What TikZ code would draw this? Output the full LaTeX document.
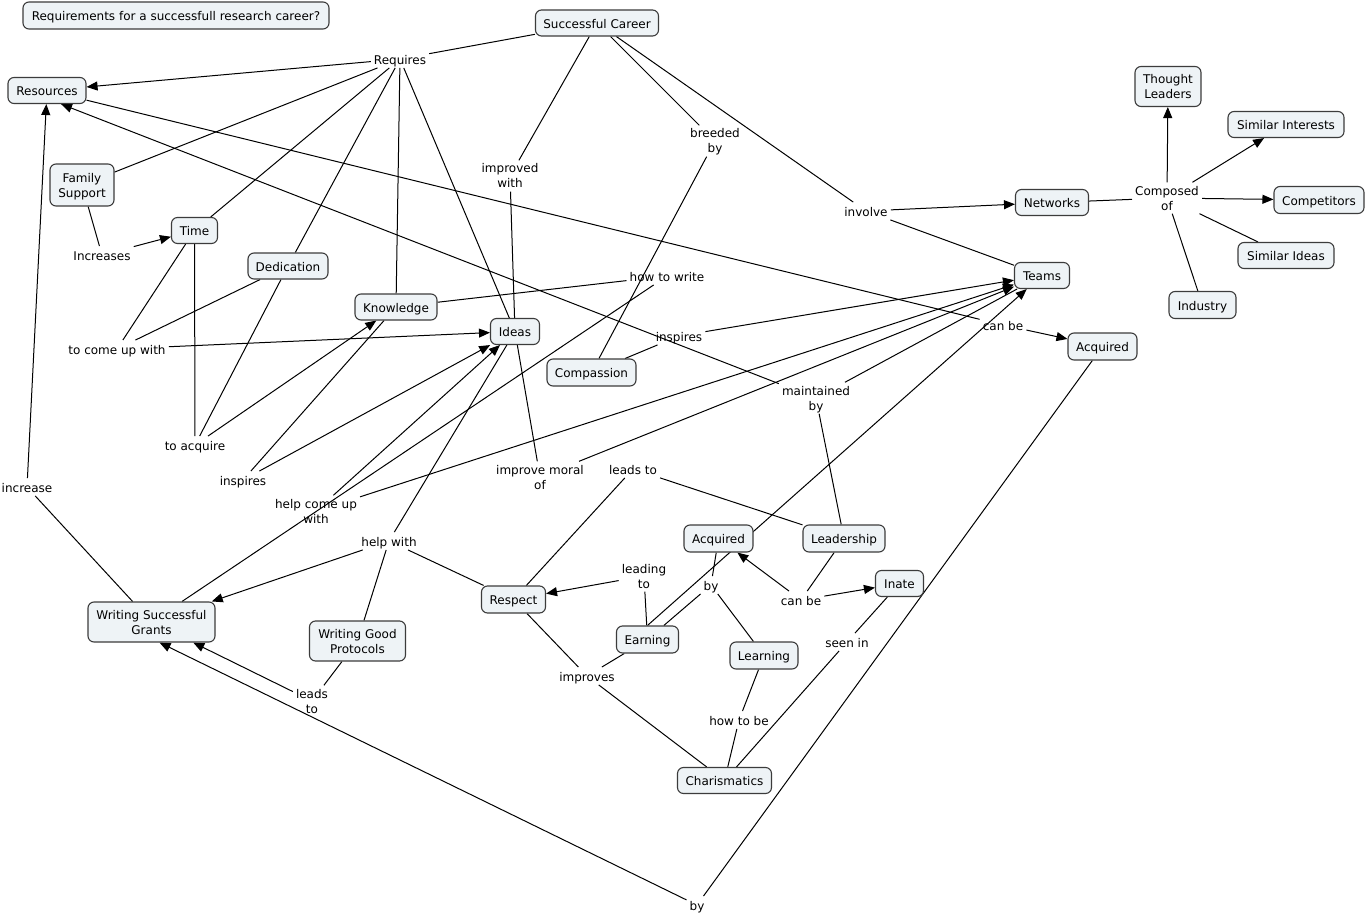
\documentclass[tikz,border=0pt]{standalone}
\usepackage{fontspec}
\setmainfont{DejaVu Sans}
\usetikzlibrary{arrows.meta}
\definecolor{cfill}{RGB}{238,243,246}
\definecolor{cborder}{RGB}{60,60,60}
\pgfdeclarelayer{bg}
\pgfdeclarelayer{lines}
\pgfsetlayers{bg,lines,main}
\begin{document}
\begin{tikzpicture}[x=1pt,y=-1pt,
  every node/.style={font=\fontsize{12}{15}\selectfont},
  cbase/.style={draw=cborder, line width=1.1pt, fill=cfill, rounded corners=6pt, inner sep=1pt},
  concept/.style={cbase, text height=11pt, text depth=0.5pt},
  concepttwo/.style={cbase, align=center, text height=24.5pt, text depth=0.5pt},
  dims/.style 2 args={minimum width=#1, minimum height=#2},
  lp/.style={inner sep=3pt, text height=11pt, text depth=0.5pt},
  lptwo/.style={inner sep=3pt, align=center, text height=24.5pt, text depth=0.5pt},
  link/.style={draw=black, line width=1pt},
  arr/.style={link, -{Triangle[length=11pt,width=9pt]}}
]
\useasboundingbox (0,0) rectangle (1366,915);
\begin{pgfonlayer}{bg}
\fill[white] (0,0) rectangle (1366,915);
\end{pgfonlayer}

% concepts
\node[concept, dims={306pt}{27pt}] (title) at (176,15.5) {Requirements for a successfull research career?};
\node[concept, dims={123pt}{26pt}] (sc) at (597,23) {Successful Career};
\node[concept, dims={78pt}{26pt}] (res) at (47,90.5) {Resources};
\node[concepttwo, dims={64pt}{42pt}] (fam) at (82,185) {Family\\Support};
\node[concept, dims={46pt}{26pt}] (time) at (194.5,230.5) {Time};
\node[concept, dims={80pt}{26pt}] (ded) at (288,266) {Dedication};
\node[concept, dims={82pt}{26pt}] (know) at (396,307) {Knowledge};
\node[concept, dims={49pt}{26pt}] (ideas) at (515,331.5) {Ideas};
\node[concept, dims={89pt}{27pt}] (comp) at (591.5,372.5) {Compassion};
\node[concept, dims={55pt}{26pt}] (teams) at (1042,275.5) {Teams};
\node[concept, dims={73pt}{26pt}] (net) at (1052,202.5) {Networks};
\node[concepttwo, dims={66pt}{40pt}] (tl) at (1168,86.5) {Thought\\Leaders};
\node[concept, dims={116pt}{26pt}] (sint) at (1286,124.5) {Similar Interests};
\node[concept, dims={90pt}{27pt}] (compet) at (1319,200) {Competitors};
\node[concept, dims={96pt}{26pt}] (sid) at (1286,255.5) {Similar Ideas};
\node[concept, dims={67pt}{27pt}] (ind) at (1202.5,305) {Industry};
\node[concept, dims={69pt}{27pt}] (acqr) at (1102.5,346.5) {Acquired};
\node[concept, dims={69pt}{27pt}] (acqm) at (718.5,538.5) {Acquired};
\node[concept, dims={82pt}{27pt}] (lead) at (844,538.5) {Leadership};
\node[concept, dims={48pt}{26pt}] (inate) at (899.5,583.5) {Inate};
\node[concept, dims={64pt}{27pt}] (resp) at (513.5,599.5) {Respect};
\node[concept, dims={62pt}{27pt}] (earn) at (647.5,639.5) {Earning};
\node[concept, dims={68pt}{27pt}] (learn) at (764,655.5) {Learning};
\node[concept, dims={94pt}{26pt}] (char) at (724.5,780.5) {Charismatics};
\node[concepttwo, dims={127pt}{40pt}] (wsg) at (151.5,622) {Writing Successful\\Grants};
\node[concepttwo, dims={96pt}{40pt}] (wgp) at (357.5,641) {Writing Good\\Protocols};

% linking phrases
\node[lp] (req) at (400,59) {Requires};
\node[lptwo] (impw) at (510,176) {improved\\with};
\node[lptwo] (breed) at (715,141) {breeded\\by};
\node[lp] (inv) at (866,211) {involve};
\node[lptwo] (cof) at (1167,198) {Composed\\of};
\node[lp] (incs) at (102,255) {Increases};
\node[lp] (tcuw) at (117,349) {to come up with};
\node[lp] (tacq) at (195,445) {to acquire};
\node[lp] (htw) at (667,276) {how to write};
\node[lp] (insu) at (679,336) {inspires};
\node[lp] (insl) at (243,480) {inspires};
\node[lp] (canu) at (1003,325) {can be};
\node[lptwo] (maint) at (816,398) {maintained\\by};
\node[lptwo] (imor) at (540,477) {improve moral\\of};
\node[lp] (leadsm) at (633,469) {leads to};
\node[lptwo] (hcuw) at (316,511) {help come up\\with};
\node[lp] (helpw) at (389,541) {help with};
\node[lp] (incr) at (27,487) {increase};
\node[lptwo] (leading) at (644,576) {leading\\to};
\node[lp] (bym) at (711,585) {by};
\node[lp] (canm) at (801,600) {can be};
\node[lp] (seen) at (847,642) {seen in};
\node[lp] (impr) at (587,676) {improves};
\node[lp] (htb) at (739,720) {how to be};
\node[lptwo] (leadsl) at (312,701) {leads\\to};
\node[lp] (byb) at (697,905) {by};

\begin{pgfonlayer}{lines}
\draw[link] (sc) -- (req);
\draw[arr] (req) -- (res);
\draw[link] (req) -- (fam);
\draw[link] (req) -- (time);
\draw[link] (req) -- (ded);
\draw[link] (req) -- (know);
\draw[link] (req) -- (ideas);
\draw[link] (sc) -- (impw);
\draw[link] (impw) -- (ideas);
\draw[link] (sc) -- (breed);
\draw[link] (breed) -- (comp);
\draw[link] (sc) -- (inv);
\draw[arr] (inv) -- (net);
\draw[link] (inv) -- (teams);
\draw[link] (net) -- (cof);
\draw[arr] (cof) -- (tl);
\draw[arr] (cof) -- (sint);
\draw[arr] (cof) -- (compet);
\draw[link] (cof) -- (sid);
\draw[link] (cof) -- (ind);
\draw[link] (fam) -- (incs);
\draw[arr] (incs) -- (time);
\draw[link] (time) -- (tcuw);
\draw[link] (ded) -- (tcuw);
\draw[arr] (tcuw) -- (ideas);
\draw[link] (time) -- (tacq);
\draw[link] (ded) -- (tacq);
\draw[arr] (tacq) -- (know);
\draw[link] (know) -- (insl);
\draw[arr] (insl) -- (ideas);
\draw[link] (know) -- (htw);
\draw[link] (htw) -- (wsg);
\draw[link] (comp) -- (insu);
\draw[arr] (insu) -- (teams);
\draw[arr] (hcuw) -- (ideas);
\draw[arr] (hcuw) -- (teams);
\draw[link] (ideas) -- (imor);
\draw[arr] (imor) -- (teams);
\draw[link] (ideas) -- (helpw);
\draw[arr] (helpw) -- (wsg);
\draw[link] (wgp) -- (helpw);
\draw[link] (resp) -- (helpw);
\draw[link] (wsg) -- (incr);
\draw[arr] (incr) -- (res);
\draw[link] (wgp) -- (leadsl);
\draw[arr] (leadsl) -- (wsg);
\draw[link] (res) -- (canu);
\draw[arr] (canu) -- (acqr);
\draw[link] (acqr) -- (byb);
\draw[arr] (byb) -- ([xshift=8pt]wsg.south);
\draw[link] (teams) -- (maint);
\draw[arr] (maint) -- ([xshift=14pt]res.south);
\draw[link] (lead) -- (maint);
\draw[link] (resp) -- (leadsm);
\draw[link] (leadsm) -- (lead);
\draw[arr] (earn.north) -- (teams);
\draw[link] (acqm) -- (bym);
\draw[link] (bym) -- (earn);
\draw[link] (bym) -- (learn);
\draw[link] (earn) -- (leading);
\draw[arr] (leading) -- (resp);
\draw[link] (lead) -- (canm);
\draw[arr] (canm) -- (acqm);
\draw[arr] (canm) -- (inate);
\draw[link] (inate) -- (seen);
\draw[link] (seen) -- (char);
\draw[link] (learn) -- (htb);
\draw[link] (htb) -- (char);
\draw[link] (resp) -- (impr);
\draw[link] (impr) -- (earn);
\draw[link] (impr) -- (char);
\end{pgfonlayer}
\end{tikzpicture}
\end{document}
